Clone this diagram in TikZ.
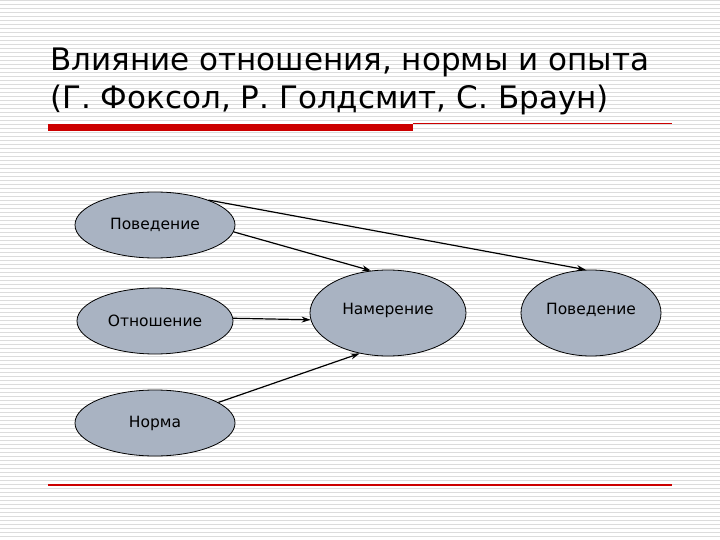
\documentclass[tikz,border=0pt]{standalone}
\usepackage{fontspec}
\setmainfont{DejaVu Sans}
\newfontfamily\titlefont{DejaVu Sans}
\usetikzlibrary{arrows.meta,shapes.geometric}
\definecolor{ellfill}{HTML}{A9B3C2}
\definecolor{stripe}{HTML}{DCDCDC}
\definecolor{redbar}{HTML}{CC0000}
\tikzset{
  ell/.style={ellipse, draw=black, line width=0.8pt, fill=ellfill, font=\fontsize{15.5}{18}\selectfont},
  arr/.style={-{Stealth[length=9pt,width=6pt]}, line width=1.2pt},
}
\begin{document}
\begin{tikzpicture}[x=1pt,y=-1pt]
\useasboundingbox (0,0) rectangle (720,540);
\fill[white] (0,0) rectangle (720,540);
\foreach \i in {0,4,...,540} \draw[stripe, line width=0.6pt] (0,\i) -- (720,\i);
\node[anchor=west, font=\titlefont\fontsize{31}{36}\selectfont, inner sep=0] (t1) at (50,62) {Влияние отношения, нормы и опыта};
\node[anchor=west, font=\titlefont\fontsize{31}{36}\selectfont, inner sep=0] (t2) at (50,100) {(Г. Фоксол, Р. Голдсмит, С. Браун)};
\fill[redbar] (48,124) rectangle (413,131);
\draw[redbar, line width=0.8pt] (413,123) -- (672,123);
\draw[redbar, line width=1.2pt] (48,485) -- (672,485);
\node[ell, minimum width=160, minimum height=66] (b1) at (155,225) {Поведение};
\node[ell, minimum width=156, minimum height=66] (o) at (155,321) {Отношение};
\node[ell, minimum width=160, minimum height=66] (n) at (155,423) {Норма};
\node[ell, minimum width=156, minimum height=86] (m) at (388,313) {\raisebox{8pt}{Намерение}};
\node[ell, minimum width=140, minimum height=86] (b2) at (591,313) {\raisebox{8pt}{Поведение}};
\draw[arr] (b1.25) -- (b2.97);
\draw[arr] (b1.-5) -- (m.112);
\draw[arr] (o.2) -- (m.185);
\draw[arr] (n.18) -- (m.235);
\end{tikzpicture}
\end{document}
